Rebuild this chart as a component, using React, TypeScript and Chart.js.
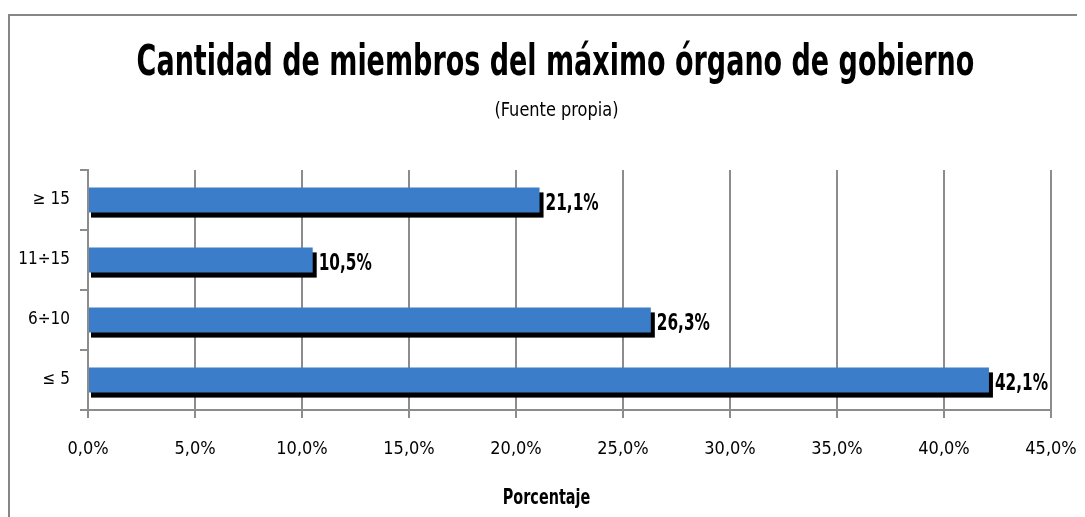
import React, { useEffect, useRef } from "react";
import { Chart, registerables } from "chart.js";

Chart.register(...registerables);

const categories = ["≥ 15", "11÷15", "6÷10", "≤ 5"];
const values = [21.1, 10.5, 26.3, 42.1];
const xTicks = { min: 0, max: 45, step: 5 };
const titleText = "Cantidad de miembros del máximo órgano de gobierno";
const subtitleText = "(Fuente propia)";
const axisTitleText = "Porcentaje";

const FONT = "'DejaVu Sans Condensed', 'DejaVu Sans', sans-serif";
const BLUE = "#3c7dca";
const GRID = "#8c8c8c";
const W = 1077;
const H = 503;

const fmt = (v: number) => v.toFixed(1).replace(".", ",") + "%";

function stretchedText(ctx: any, text: string, x: number, y: number, sy: number) {
  ctx.save();
  ctx.scale(1, sy);
  ctx.fillText(text, x, y / sy);
  ctx.restore();
}

const decorPlugin = {
  id: "decor",
  beforeDraw(chart: any) {
    const ctx = chart.ctx;
    ctx.save();
    ctx.fillStyle = "#ffffff";
    ctx.fillRect(0, 0, chart.width, chart.height);
    ctx.fillStyle = "#868686";
    ctx.fillRect(0, 0, 2, chart.height);
    ctx.fillRect(0, 0, chart.width, 2);
    ctx.fillStyle = "#000000";
    ctx.textAlign = "center";
    ctx.textBaseline = "alphabetic";
    ctx.font = `bold 30px ${FONT}`;
    stretchedText(ctx, titleText, 547.5, 61, 1.42);
    ctx.font = `18px ${FONT}`;
    stretchedText(ctx, subtitleText, 548.5, 102, 1.12);
    ctx.restore();
  },
  beforeDatasetsDraw(chart: any) {
    const ctx = chart.ctx;
    const meta = chart.getDatasetMeta(0);
    ctx.save();
    ctx.fillStyle = "#000000";
    meta.data.forEach((el: any) => {
      const { x, y, base, height } = el.getProps(["x", "y", "base", "height"], true);
      ctx.fillRect(base + 2, y - height / 2 + 5, x + 4 - (base + 2), height);
    });
    ctx.restore();
  },
  afterDatasetsDraw(chart: any) {
    const ctx = chart.ctx;
    const meta = chart.getDatasetMeta(0);
    ctx.save();
    ctx.fillStyle = "#000000";
    ctx.font = `bold 17px ${FONT}`;
    ctx.textAlign = "left";
    ctx.textBaseline = "alphabetic";
    meta.data.forEach((el: any, i: number) => {
      const { x, y } = el.getProps(["x", "y"], true);
      stretchedText(ctx, fmt(values[i]), x + 6, y + 10, 1.35);
    });
    ctx.restore();
  },
  afterDraw(chart: any) {
    const ctx = chart.ctx;
    ctx.save();
    ctx.fillStyle = "#000000";
    ctx.font = `bold 16px ${FONT}`;
    ctx.textAlign = "center";
    ctx.textBaseline = "alphabetic";
    stretchedText(ctx, axisTitleText, chart.width / 2, 490, 1.3);
    ctx.restore();
  },
};

export default function App() {
  const ref = useRef<HTMLCanvasElement | null>(null);
  useEffect(() => {
    if (!ref.current) return;
    const chart = new Chart(ref.current, {
      type: "bar",
      data: {
        labels: categories,
        datasets: [
          {
            data: values,
            backgroundColor: BLUE,
            borderWidth: 0,
            barPercentage: 0.42,
            categoryPercentage: 1,
          },
        ],
      },
      options: {
        indexAxis: "y",
        animation: false,
        responsive: false,
        devicePixelRatio: 1,
        layout: { padding: { left: 0, right: 34, top: 156, bottom: 0 } },
        plugins: {
          legend: { display: false },
          tooltip: { enabled: false },
          title: { display: false },
          subtitle: { display: false },
        },
        scales: {
          x: {
            type: "linear",
            min: xTicks.min,
            max: xTicks.max,
            afterFit(scale: any) {
              scale.height = 107;
              scale.paddingLeft = 0;
              scale.paddingRight = 0;
            },
            ticks: {
              stepSize: xTicks.step,
              color: "#000000",
              padding: 21,
              font: { family: FONT, size: 18 },
              callback: (v: any) => fmt(Number(v)),
            },
            grid: { color: GRID, lineWidth: 2, tickLength: 8 },
            border: { color: GRID, width: 2 },
          },
          y: {
            afterFit(scale: any) {
              scale.width = 80;
            },
            ticks: {
              color: "#000000",
              padding: 10,
              font: { family: FONT, size: 17 },
            },
            grid: { color: GRID, lineWidth: 2, tickLength: 8, drawOnChartArea: false },
            border: { color: GRID, width: 2 },
          },
        },
      },
      plugins: [decorPlugin],
    } as any);
    return () => chart.destroy();
  }, []);
  return (
    <div style={{ width: W, height: H, marginTop: 6, overflow: "hidden" }}>
      <canvas ref={ref} width={W} height={H} style={{ display: "block", width: W, height: H }} />
    </div>
  );
}
